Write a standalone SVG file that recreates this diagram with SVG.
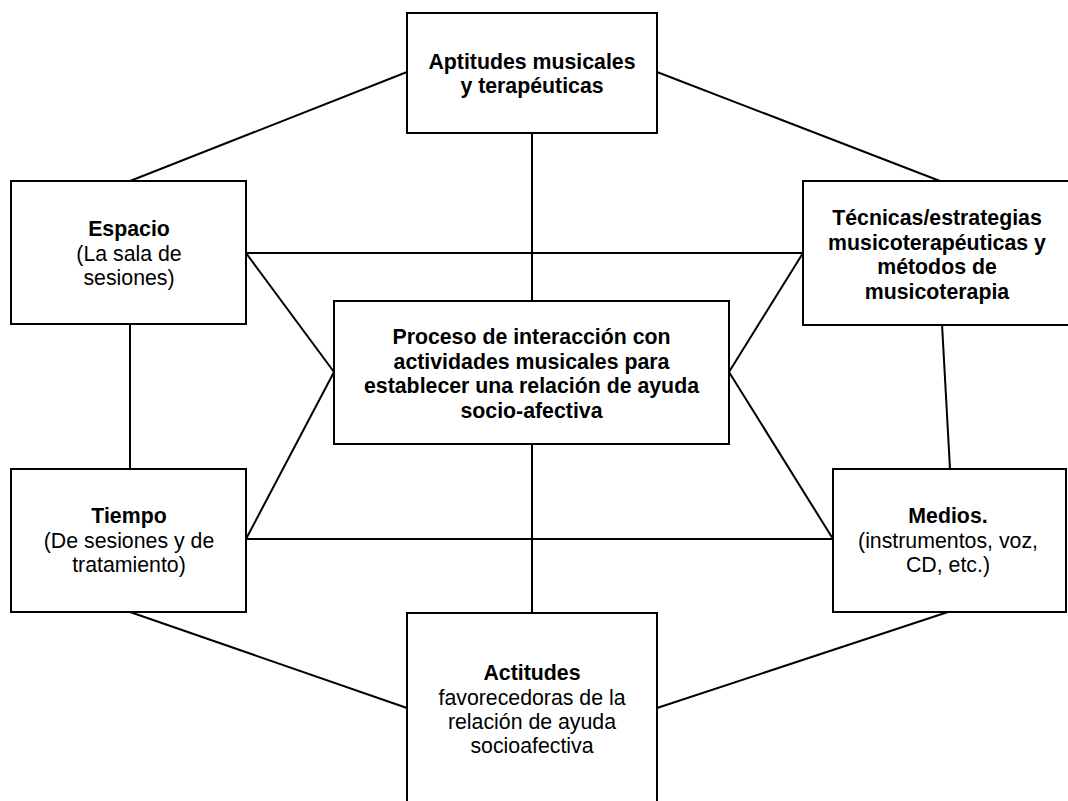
<svg xmlns="http://www.w3.org/2000/svg" width="1068" height="801" viewBox="0 0 1068 801">
<style>
.box{fill:#fff;stroke:#000;stroke-width:2}
.ln{stroke:#000;stroke-width:2;fill:none}
text{font-family:"Liberation Sans",Arial,sans-serif;font-size:21.3px;fill:#000;text-anchor:middle}
.b{font-weight:bold}
</style>
<rect width="1068" height="801" fill="#fff"/>
<g id="connectors">
<line class="ln" x1="407" y1="72" x2="130" y2="181"/>
<line class="ln" x1="657" y1="72" x2="940" y2="181"/>
<line class="ln" x1="532" y1="133" x2="532" y2="301"/>
<line class="ln" x1="246" y1="253" x2="803" y2="253"/>
<line class="ln" x1="246" y1="253" x2="334" y2="372"/>
<line class="ln" x1="803" y1="253" x2="729" y2="372"/>
<line class="ln" x1="130" y1="324" x2="130" y2="469"/>
<line class="ln" x1="942" y1="324" x2="950" y2="469"/>
<line class="ln" x1="246" y1="539" x2="833" y2="539"/>
<line class="ln" x1="246" y1="539" x2="334" y2="372"/>
<line class="ln" x1="833" y1="539" x2="729" y2="372"/>
<line class="ln" x1="532" y1="444" x2="532" y2="613"/>
<line class="ln" x1="130" y1="612" x2="407" y2="708"/>
<line class="ln" x1="948" y1="612" x2="657" y2="708"/>
</g>
<g id="aptitudes">
<rect class="box" x="407" y="13" width="250" height="120"/>
<text class="b" x="532" y="69">Aptitudes musicales</text>
<text class="b" x="532" y="93">y terapéuticas</text>
</g>
<g id="espacio">
<rect class="box" x="11" y="181" width="235" height="143"/>
<text class="b" x="129" y="236">Espacio</text>
<text x="129" y="261">(La sala de</text>
<text x="129" y="285">sesiones)</text>
</g>
<g id="tecnicas">
<rect class="box" x="803" y="181" width="270" height="144"/>
<text class="b" x="937" y="225">Técnicas/estrategias</text>
<text class="b" x="937" y="249.5">musicoterapéuticas y</text>
<text class="b" x="937" y="274">métodos de</text>
<text class="b" x="937" y="298.5">musicoterapia</text>
</g>
<g id="proceso">
<rect class="box" x="334" y="301" width="395" height="143"/>
<text class="b" x="531.5" y="344">Proceso de interacción con</text>
<text class="b" x="531.5" y="368.5">actividades musicales para</text>
<text class="b" x="531.5" y="393">establecer una relación de ayuda</text>
<text class="b" x="531.5" y="417.5">socio-afectiva</text>
</g>
<g id="tiempo">
<rect class="box" x="11" y="469" width="235" height="143"/>
<text class="b" x="129" y="523">Tiempo</text>
<text x="129" y="548">(De sesiones y de</text>
<text x="129" y="572">tratamiento)</text>
</g>
<g id="medios">
<rect class="box" x="833" y="469" width="233" height="143"/>
<text class="b" x="948" y="523">Medios.</text>
<text x="948" y="548">(instrumentos, voz,</text>
<text x="948" y="572">CD, etc.)</text>
</g>
<g id="actitudes">
<rect class="box" x="407" y="613" width="250" height="200"/>
<text class="b" x="532" y="680">Actitudes</text>
<text x="532" y="705">favorecedoras de la</text>
<text x="532" y="729">relación de ayuda</text>
<text x="532" y="753">socioafectiva</text>
</g>
</svg>
